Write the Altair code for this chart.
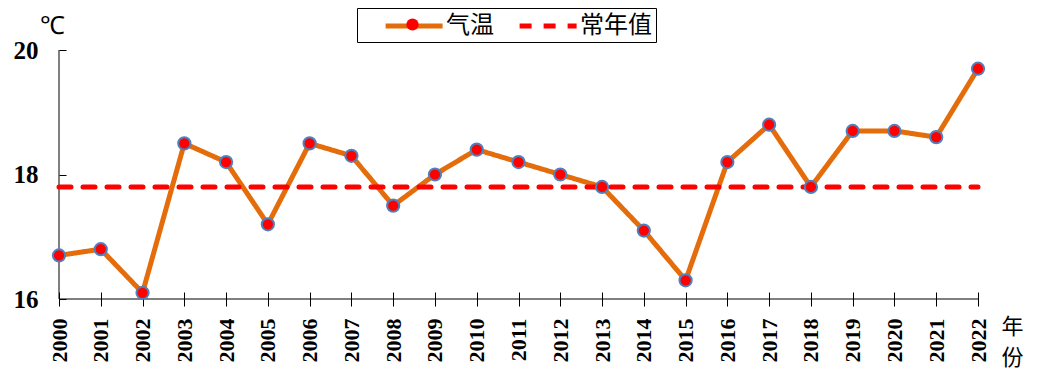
import altair as alt
import pandas as pd

years = list(range(2000, 2023))
temps = [16.7, 16.8, 16.1, 18.5, 18.2, 17.2, 18.5, 18.3, 17.5, 18.0, 18.4, 18.2,
         18.0, 17.8, 17.1, 16.3, 18.2, 18.8, 17.8, 18.7, 18.7, 18.6, 19.7]
normal_value = 17.8
y_ticks = [16, 18, 20]
series_names = ["气温", "常年值"]
series_colors = ["#E46C0A", "#FF0000"]

df_t = pd.DataFrame({"year": years, "value": temps, "series": series_names[0]})
df_n = pd.DataFrame({"year": years, "value": [normal_value] * len(years), "series": series_names[1]})
df_axis = pd.DataFrame({"a": [0]})

SERIF = "Liberation Serif"
CJK = "Noto Sans CJK SC"

x_scale = alt.Scale(domain=[years[0], years[-1]], nice=False, zero=False)
y_scale = alt.Scale(domain=[y_ticks[0], y_ticks[-1]], nice=False, zero=False)

x_axis = alt.Axis(values=years, format="d", domain=False, offset=-7, tickSize=14,
                  tickColor="black", labelAngle=270, labelAlign="right", labelBaseline="middle",
                  labelPadding=12, labelFont=SERIF, labelFontWeight="bold", labelFontSize=22,
                  labelColor="black", grid=False, labelOverlap=False,
                  title=["年", "份"], titleAngle=0, titleX=953, titleY=24, titleAlign="center",
                  titleBaseline="top", titleFont=CJK, titleFontSize=22, titleFontWeight="normal",
                  titleLineHeight=31, titleColor="black")
y_axis = alt.Axis(values=y_ticks, domain=False, offset=-7, tickSize=7, tickColor="black",
                  labelPadding=21, labelFont=SERIF, labelFontWeight="bold", labelFontSize=25,
                  labelColor="black", grid=False,
                  title="℃", titleAngle=0, titleX=-14, titleY=-25, titleAlign="center",
                  titleBaseline="middle", titleFont=SERIF, titleFontSize=25,
                  titleFontWeight="normal", titleColor="black")

line_legend = alt.Legend(title=None, orient="none", legendX=298, legendY=-42,
                         direction="horizontal", symbolType="M-1,0L4,0", symbolSize=520,
                         symbolStrokeWidth=5, padding=4, symbolOffset=22, labelOffset=35,
                         columnPadding=1, gridAlign="none",
                         labelExpr="datum.label == '常年值' ? datum.label + '\u00a0\u00a0\u00a0' : datum.label",
                         labelFont=CJK, labelFontSize=24, labelColor="black",
                         strokeColor="black", fillColor="white")

stroke_enc = alt.Stroke("series:N", scale=alt.Scale(domain=series_names, range=series_colors),
                        legend=line_legend)
dash_enc = alt.StrokeDash("series:N", scale=alt.Scale(domain=series_names, range=[[1, 0], [12, 12]]),
                          legend=line_legend)

axis_left = alt.Chart(df_axis).mark_rule(color="black", strokeWidth=1).encode(
    x=alt.X(datum=years[0], type="quantitative", scale=x_scale, axis=x_axis),
    y=alt.Y(datum=y_ticks[0], type="quantitative", scale=y_scale, axis=y_axis),
    y2=alt.Y2(datum=y_ticks[-1]),
)
axis_bottom = alt.Chart(df_axis).mark_rule(color="black", strokeWidth=1).encode(
    x=alt.X(datum=years[0], type="quantitative", scale=x_scale, axis=x_axis),
    x2=alt.X2(datum=years[-1]),
    y=alt.Y(datum=y_ticks[0], type="quantitative", scale=y_scale, axis=y_axis),
)

temp_line = alt.Chart(df_t).mark_line(strokeWidth=5, strokeJoin="round", strokeCap="round").encode(
    x=alt.X("year:Q", scale=x_scale, axis=x_axis),
    y=alt.Y("value:Q", scale=y_scale, axis=y_axis),
    stroke=stroke_enc,
    strokeDash=dash_enc,
)
normal_line = alt.Chart(df_n).mark_line(strokeWidth=5, strokeCap="round").encode(
    x=alt.X("year:Q", scale=x_scale, axis=x_axis),
    y=alt.Y("value:Q", scale=y_scale, axis=y_axis),
    stroke=stroke_enc,
    strokeDash=dash_enc,
)
points = alt.Chart(df_t).mark_point(filled=True, fill="#FF0000", stroke="#4F81BD",
                                    strokeWidth=2, size=150, opacity=1).encode(
    x=alt.X("year:Q", scale=x_scale, axis=x_axis),
    y=alt.Y("value:Q", scale=y_scale, axis=y_axis),
    shape=alt.Shape("series:N", scale=alt.Scale(domain=[series_names[0]], range=["circle"]),
                    legend=alt.Legend(title=None, orient="none", legendX=346, legendY=-33,
                                      padding=0, labelExpr="''", symbolSize=150,
                                      symbolFillColor="#FF0000", symbolStrokeColor="#4F81BD",
                                      symbolStrokeWidth=2)),
)

chart = alt.layer(axis_left, axis_bottom, temp_line, normal_line, points).properties(
    width=919, height=249,
    autosize=alt.AutoSizeParams(type="none"),
    padding={"left": 51, "top": 42, "right": 51, "bottom": 81},
    background="white",
).configure_view(stroke=None)

chart.save("out.html", embed_options={"renderer": "svg", "actions": False})
